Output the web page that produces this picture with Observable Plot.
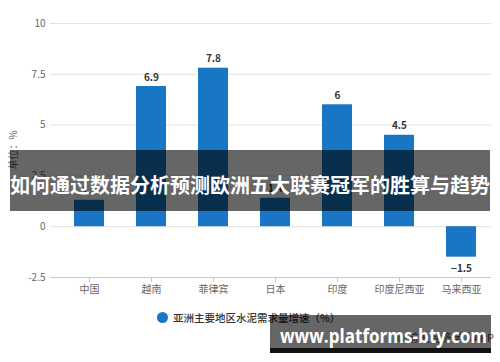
<!DOCTYPE html>
<html><head><meta charset="utf-8">
<script src="https://cdn.jsdelivr.net/npm/d3@7"></script>
<script src="https://cdn.jsdelivr.net/npm/@observablehq/plot@0.6"></script>
<style>
body{margin:0;background:#fff;}
#wrap{position:relative;width:500px;height:362px;overflow:hidden;font-family:"Noto Sans CJK SC","Noto Sans",sans-serif;background:#fff;}
#wrap svg{position:absolute;left:0;top:0;}
.abs{position:absolute;white-space:nowrap;}
</style></head><body><div id="wrap"></div>
<script>
const categories = ["中国","越南","菲律宾","日本","印度","印度尼西亚","马来西亚"];
const values = [1.3, 6.9, 7.8, 1.4, 6, 4.5, -1.5];
const yTicks = [-2.5, 0, 2.5, 5, 7.5, 10];
const seriesName = "亚洲主要地区水泥需求量增速（%）";
const yLabel = "单位：%";
const bannerTitle = "如何通过数据分析预测欧洲五大联赛冠军的胜算与趋势";
const siteText = "www.platforms-bty.com";
const sourceText = "© 前瞻经济学人APP";

const data = categories.map((c, i) => ({c, v: values[i]}));
const font = '"Noto Sans CJK SC","Noto Sans",sans-serif';
const wrap = document.getElementById("wrap");

const chart = Plot.plot({
  width: 500, height: 300,
  marginLeft: 50, marginRight: 9, marginTop: 23, marginBottom: 23,
  style: {fontFamily: font, fontSize: "10px", color: "#666", background: "transparent"},
  x: {domain: categories, range: [58, 492], paddingInner: 0.52, paddingOuter: 0.26, label: null},
  y: {domain: [-2.5, 10], label: null},
  marks: [
    Plot.ruleY(yTicks.filter(d => d > -2.5), {stroke: "#e2e2e2"}),
    Plot.ruleY([-2.5], {stroke: "#c8c8c8"}),
    Plot.barY(data, {x: "c", y: "v", fill: "#1876c5"}),
    Plot.text(data.filter(d => d.v >= 0), {x: "c", y: "v", text: d => String(d.v), dy: -9, fill: "#333", fontWeight: "bold", fontSize: 10}),
    Plot.text(data.filter(d => d.v < 0), {x: "c", y: "v", text: d => "−" + String(Math.abs(d.v)), dy: 12, fill: "#333", fontWeight: "bold", fontSize: 10}),
    Plot.axisY(yTicks, {tickSize: 0, tickPadding: 5, tickFormat: d => String(d), label: null}),
    Plot.axisX({tickSize: 5, tickPadding: 3, stroke: "#c8c8c8", label: null})
  ]
});
wrap.appendChild(chart);

// y axis unit label
const yl = document.createElement("div");
yl.className = "abs"; yl.textContent = yLabel;
Object.assign(yl.style, {left: "13px", top: "150px", fontSize: "10px", color: "#666", transform: "translate(-50%,-50%) rotate(-90deg)", lineHeight: "12px"});
wrap.appendChild(yl);

// legend
const lg = document.createElement("div");
lg.className = "abs";
Object.assign(lg.style, {left: "157px", top: "310px", height: "14px", display: "flex", alignItems: "center", fontSize: "10.5px", color: "#333", fontWeight: "500"});
const dot = document.createElement("span");
Object.assign(dot.style, {width: "11px", height: "11px", borderRadius: "50%", background: "#1876c5", display: "inline-block", marginRight: "5px"});
const lt = document.createElement("span"); lt.textContent = seriesName;
lg.appendChild(dot); lg.appendChild(lt);
wrap.appendChild(lg);

// source credit
const src = document.createElement("div");
src.className = "abs"; src.textContent = sourceText;
Object.assign(src.style, {right: "6px", top: "330px", fontSize: "11px", color: "#555", lineHeight: "14px"});
wrap.appendChild(src);

// banner overlay
const banner = document.createElement("div");
banner.className = "abs";
Object.assign(banner.style, {left: "10px", top: "150px", width: "480px", height: "61px", background: "rgba(0,0,0,0.6)"});
wrap.appendChild(banner);
const bt = document.createElement("div");
bt.className = "abs"; bt.textContent = bannerTitle;
Object.assign(bt.style, {left: "10px", top: "175px", fontSize: "20px", lineHeight: "20px", color: "#fff", fontWeight: "bold"});
wrap.appendChild(bt);

// site overlay
const sb = document.createElement("div");
sb.className = "abs";
Object.assign(sb.style, {left: "270px", top: "315px", width: "221px", height: "33px", background: "rgba(0,0,0,0.6)"});
wrap.appendChild(sb);
const sb2 = document.createElement("div");
sb2.className = "abs";
Object.assign(sb2.style, {left: "270px", top: "348px", width: "221px", height: "5px", background: "#111"});
wrap.appendChild(sb2);
const st = document.createElement("div");
st.className = "abs"; st.textContent = siteText;
Object.assign(st.style, {left: "280px", top: "324px", fontSize: "20px", lineHeight: "24px", color: "#fff", fontWeight: "bold", fontFamily: '"Open Sans","Noto Sans",sans-serif', transformOrigin: "left top"});
wrap.appendChild(st);
const w = st.getBoundingClientRect().width;
st.style.transform = `scaleX(${207 / w})`;
</script>
</body></html>
